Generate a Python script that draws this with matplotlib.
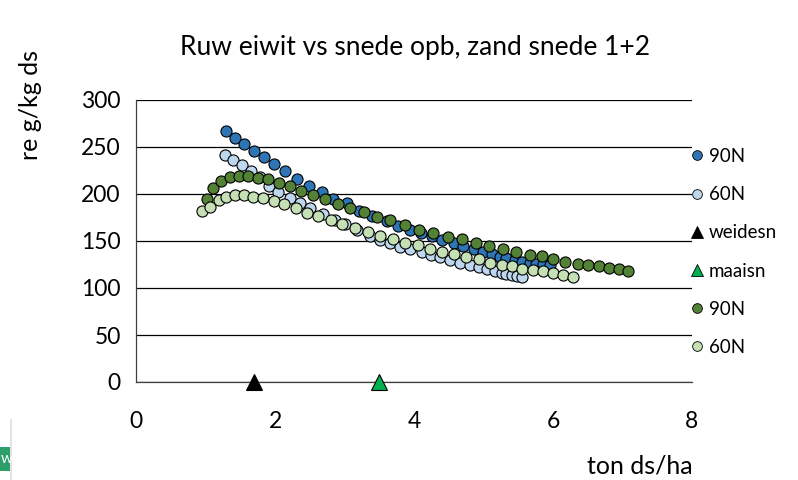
import matplotlib
matplotlib.use("Agg")
import matplotlib.pyplot as plt
from matplotlib.lines import Line2D
from matplotlib.patches import Rectangle

plt.rcParams['font.family'] = ['Lato', 'DejaVu Sans']

# ---- data ----
blue90_x = [1.30, 1.42, 1.55, 1.70, 1.84, 1.99, 2.14, 2.32, 2.49, 2.67, 2.83, 3.03, 3.21, 3.40,
            3.61, 3.77, 3.94, 4.10, 4.26, 4.41, 4.57, 4.71, 4.86, 4.99, 5.12, 5.24, 5.33, 5.45,
            5.55, 5.67, 5.76, 5.86, 5.95]
blue90_y = [267, 260, 253, 246, 239, 232, 224, 216, 209, 202, 195, 190, 182, 177,
            171, 166, 162, 158, 155, 151, 148, 145, 141, 138.6, 136, 133, 131.5, 129.8,
            128, 127, 126, 125.5, 124.5]

blue60_x = [1.28, 1.40, 1.52, 1.66, 1.78, 1.92, 2.05, 2.21, 2.36, 2.50, 2.69, 2.86, 3.01, 3.18,
            3.36, 3.51, 3.65, 3.80, 3.94, 4.11, 4.25, 4.37, 4.52, 4.66, 4.81, 4.93, 5.05, 5.17,
            5.26, 5.33, 5.41, 5.48, 5.55]
blue60_y = [242, 236, 231, 224, 218, 208.5, 202, 196, 190, 185, 179, 172, 168, 162,
            155, 151, 148, 144, 142, 138.6, 135, 132.6, 130, 127, 124.5, 122, 120, 118.4,
            116, 115, 114, 113, 112]

green90_x = [1.02, 1.11, 1.23, 1.35, 1.48, 1.61, 1.75, 1.90, 2.06, 2.21, 2.38, 2.54, 2.72, 2.90,
             3.08, 3.28, 3.47, 3.66, 3.87, 4.07, 4.27, 4.49, 4.69, 4.89, 5.08, 5.28, 5.47, 5.67,
             5.84, 6.00, 6.17, 6.36, 6.51, 6.66, 6.81, 6.95, 7.08]
green90_y = [195, 206, 214, 218, 219, 219, 217, 216, 212, 208, 203.5, 199, 194.7, 189,
             185, 180.5, 175, 172, 167, 162, 158, 154.6, 151.8, 148, 144.7, 141.8, 138, 134.8,
             134, 131, 128, 126, 125, 123.7, 121, 119.9, 118.4]

green60_x = [0.95, 1.07, 1.19, 1.30, 1.43, 1.55, 1.69, 1.83, 1.98, 2.13, 2.30, 2.46, 2.62, 2.80,
             2.97, 3.15, 3.34, 3.51, 3.70, 3.87, 4.06, 4.23, 4.40, 4.57, 4.75, 4.93, 5.09, 5.26,
             5.41, 5.55, 5.71, 5.86, 6.00, 6.15, 6.29]
green60_y = [182, 186.5, 193.6, 197, 199, 199, 197, 195.7, 192.6, 189, 184.7, 180, 176.6, 172,
             168, 164, 160, 155, 152, 148, 145.5, 142, 138.6, 136, 133, 130.5, 127, 125,
             123, 120.6, 119.5, 118, 116, 113.5, 112]

weidesn_x = [1.70]
weidesn_y = [0]
maaisn_x = [3.50]
maaisn_y = [0]

labels = ['90N', '60N', 'weidesn', 'maaisn', '90N', '60N']
title = 'Ruw eiwit vs snede opb, zand snede 1+2'
yticks = [0, 50, 100, 150, 200, 250, 300]
xticks = [0, 2, 4, 6, 8]

# ---- figure ----
W, H = 798, 480
fig = plt.figure(figsize=(W / 100, H / 100), dpi=100)
ax = fig.add_axes([136 / W, (H - 382) / H, (692 - 136) / W, (382 - 100) / H])

ms = 8.0
kw = dict(linestyle='none', markeredgecolor='black', markeredgewidth=0.8, clip_on=False)
h1, = ax.plot(blue90_x, blue90_y, marker='o', markersize=ms, markerfacecolor='#2E75B6', zorder=3, **kw)
h2, = ax.plot(blue60_x, blue60_y, marker='o', markersize=ms, markerfacecolor='#BDD7EE', zorder=3, **kw)
h3, = ax.plot(weidesn_x, weidesn_y, marker='^', markersize=11, markerfacecolor='black', zorder=3, **kw)
h4, = ax.plot(maaisn_x, maaisn_y, marker='^', markersize=11, markerfacecolor='#00B050', zorder=3, **kw)
h5, = ax.plot(green90_x, green90_y, marker='o', markersize=ms, markerfacecolor='#538135', zorder=3, **kw)
h6, = ax.plot(green60_x, green60_y, marker='o', markersize=ms, markerfacecolor='#C5E0B4', zorder=3, **kw)

ax.set_xlim(0, 8)
ax.set_ylim(0, 300)
ax.set_xticks(xticks)
ax.set_yticks(yticks)
ax.set_xticklabels([str(v) for v in xticks])
ax.set_yticklabels([str(v) for v in yticks])
ax.tick_params(axis='both', length=0, labelsize=16.5, colors='black')
ax.tick_params(axis='y', pad=11)
ax.tick_params(axis='x', pad=21)
ax.grid(axis='y', color='#000000', linewidth=0.9)
ax.set_axisbelow(True)
for s in ['top', 'right']:
    ax.spines[s].set_visible(False)
ax.spines['left'].set_color('#404040')
ax.spines['bottom'].set_color('#404040')
ax.spines['left'].set_linewidth(0.9)
ax.spines['bottom'].set_linewidth(0.9)

# legend
leg_handles = []
for h in [h1, h2, h3, h4, h5, h6]:
    leg_handles.append(Line2D([0], [0], linestyle='none', marker=h.get_marker(),
                              markersize=7 if h.get_marker() == 'o' else 8,
                              markerfacecolor=h.get_markerfacecolor(),
                              markeredgecolor='black', markeredgewidth=0.6))
fig.legend(leg_handles, labels, loc='upper left', bbox_to_anchor=(690 / W, 1 - 148 / H),
           frameon=False, fontsize=13.5, labelspacing=1.13, handlelength=0.7,
           handletextpad=0.3, borderpad=0, borderaxespad=0)

# texts
fig.text(415 / W, 1 - 47 / H, title, ha='center', va='center', fontsize=19)
fig.text(30 / W, 1 - 50 / H, 're g/kg ds', rotation=90, ha='center', va='top', fontsize=18)
fig.text(693 / W, 1 - 466 / H, 'ton ds/ha', ha='right', va='center', fontsize=18)

# small artifact at bottom-left
fig.patches.append(Rectangle((0, 1 - 471 / H), 9.5 / W, 24 / H, transform=fig.transFigure,
                             facecolor='#2E9E6B', edgecolor='none'))
fig.text(1 / W, 1 - 459 / H, 'w', color='white', fontsize=11, ha='left', va='center')
fig.lines.append(Line2D([10.7 / W, 10.7 / W], [0, 60 / H], transform=fig.transFigure,
                        color='#DDDDDD', linewidth=1.2))

fig.savefig('out.png', dpi=100)
